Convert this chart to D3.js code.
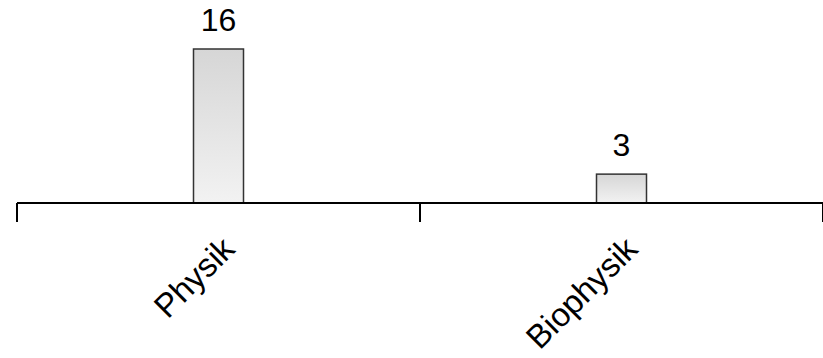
<!DOCTYPE html>
<html>
<head>
<meta charset="utf-8">
<script src="https://cdn.jsdelivr.net/npm/d3@7"></script>
<style>
  body { margin: 0; background: #fff; }
  text { font-family: "Liberation Sans", Arial, sans-serif; }
</style>
</head>
<body>
<div id="chart"></div>
<script>
const categories = ["Physik", "Biophysik"];
const values = [16, 3];

const width = 823, height = 358;
const baseY = 203;

const svg = d3.select("#chart")
    .append("svg")
    .attr("width", width)
    .attr("height", height);

const defs = svg.append("defs");
const grad = defs.append("linearGradient")
    .attr("id", "barGrad")
    .attr("x1", 0).attr("y1", 0)
    .attr("x2", 0).attr("y2", 1);
grad.append("stop").attr("offset", "0%").attr("stop-color", "#d6d6d6");
grad.append("stop").attr("offset", "100%").attr("stop-color", "#f2f2f2");

const xScale = d3.scaleBand()
    .domain(categories)
    .range([17, 17 + 403 * 2])
    .padding(0);

const yScale = d3.scaleLinear()
    .domain([0, 16])
    .range([baseY, 49]);

const barW = 50;

// bars
svg.append("g")
    .selectAll("rect")
    .data(values)
    .enter()
    .append("rect")
    .attr("x", (d, i) => xScale(categories[i]) + xScale.bandwidth() / 2 - barW / 2)
    .attr("y", d => yScale(d))
    .attr("width", barW)
    .attr("height", d => baseY - yScale(d))
    .attr("fill", "url(#barGrad)")
    .attr("stroke", "#333")
    .attr("stroke-width", 1.5);

// value labels
svg.append("g")
    .selectAll("text")
    .data(values)
    .enter()
    .append("text")
    .attr("x", (d, i) => xScale(categories[i]) + xScale.bandwidth() / 2)
    .attr("y", d => yScale(d) - 18)
    .attr("text-anchor", "middle")
    .attr("font-size", 32)
    .attr("fill", "#000")
    .text(d => d);

// axis line + boundary ticks
const axis = svg.append("g").attr("class", "x axis");
axis.append("line")
    .attr("x1", xScale.range()[0])
    .attr("x2", xScale.range()[1])
    .attr("y1", baseY)
    .attr("y2", baseY)
    .attr("stroke", "#000")
    .attr("stroke-width", 2);

const tickXs = categories.map(c => xScale(c)).concat([xScale.range()[1]]);
axis.selectAll(".tick")
    .data(tickXs)
    .enter()
    .append("line")
    .attr("class", "tick")
    .attr("x1", d => d)
    .attr("x2", d => d)
    .attr("y1", baseY)
    .attr("y2", baseY + 19)
    .attr("stroke", "#000")
    .attr("stroke-width", 2);

// rotated category labels
axis.selectAll(".cat")
    .data(categories)
    .enter()
    .append("text")
    .attr("class", "cat")
    .attr("font-size", 33)
    .attr("text-anchor", "end")
    .attr("transform", d => `translate(${xScale(d) + xScale.bandwidth() / 2 + 18}, ${baseY + 48}) rotate(-45)`)
    .text(d => d);
</script>
</body>
</html>
